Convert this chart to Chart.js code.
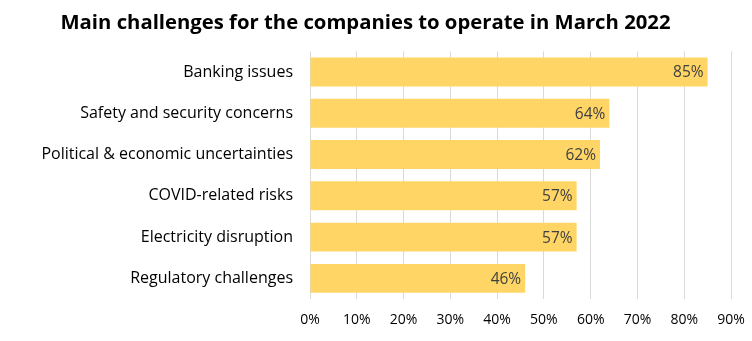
<!DOCTYPE html>
<html>
<head>
<meta charset="utf-8">
<script src="https://cdn.jsdelivr.net/npm/chart.js@4"></script>
<style>
  html, body { margin: 0; padding: 0; background: #fff; }
  #wrap { width: 752px; height: 341px; }
</style>
</head>
<body>
<div id="wrap"><canvas id="myChart"></canvas></div>
<script>
// Challenges and share of companies citing them
const challenges = [
    'Banking issues',
    'Safety and security concerns',
    'Political & economic uncertainties',
    'COVID-related risks',
    'Electricity disruption',
    'Regulatory challenges'
];
const shares = [85, 64, 62, 57, 57, 46];
const tickValues = [0, 10, 20, 30, 40, 50, 60, 70, 80, 90];

const FONT = "'Open Sans', 'Noto Sans', sans-serif";

// draws the percentage inside the end of each bar
const barValueLabels = {
    id: 'barValueLabels',
    afterDatasetsDraw(chart) {
        const c = chart.ctx;
        const meta = chart.getDatasetMeta(0);
        c.save();
        c.font = '15.5px ' + FONT;
        c.fillStyle = '#404040';
        c.textAlign = 'right';
        c.textBaseline = 'middle';
        meta.data.forEach(function (bar, i) {
            c.fillText(shares[i] + '%', bar.x - 4, bar.y + 1);
        });
        c.restore();
    }
};

const ctx = document.getElementById('myChart').getContext('2d');
const config = {
    type: 'bar',
    data: {
        labels: challenges,
        datasets: [{
            data: shares,
            backgroundColor: '#FFD666',
            borderWidth: 0,
            categoryPercentage: 1,
            barPercentage: 0.7
        }]
    },
    options: {
        indexAxis: 'y',
        responsive: true,
        maintainAspectRatio: false,
        animation: false,
        layout: {
            padding: { left: 0, right: 21, top: 0, bottom: 0 }
        },
        plugins: {
            legend: { display: false },
            tooltip: { enabled: false },
            title: {
                display: true,
                text: 'Main challenges for the companies to operate in March 2022',
                color: '#000',
                font: { family: FONT, size: 20.3, weight: 'bold' },
                padding: { top: 11, bottom: 16 }
            }
        },
        scales: {
            x: {
                min: 0,
                max: 90,
                afterBuildTicks: function (scale) {
                    scale.ticks = tickValues.map(v => ({ value: v }));
                },
                afterFit: function (scale) {
                    scale.paddingLeft = 0;
                    scale.paddingRight = 0;
                    scale.height = 42;
                },
                ticks: {
                    color: '#000',
                    font: { family: FONT, size: 14 },
                    padding: 13,
                    callback: v => v + '%'
                },
                grid: { color: '#d9d9d9', drawTicks: false },
                border: { display: false }
            },
            y: {
                afterFit: function (scale) { scale.width = 310; },
                ticks: {
                    color: '#000',
                    font: { family: FONT, size: 16 },
                    padding: 17
                },
                grid: { display: false, drawTicks: false },
                border: { display: false }
            }
        }
    },
    plugins: [barValueLabels]
};

const myChart = new Chart(ctx, config);
</script>
</body>
</html>
